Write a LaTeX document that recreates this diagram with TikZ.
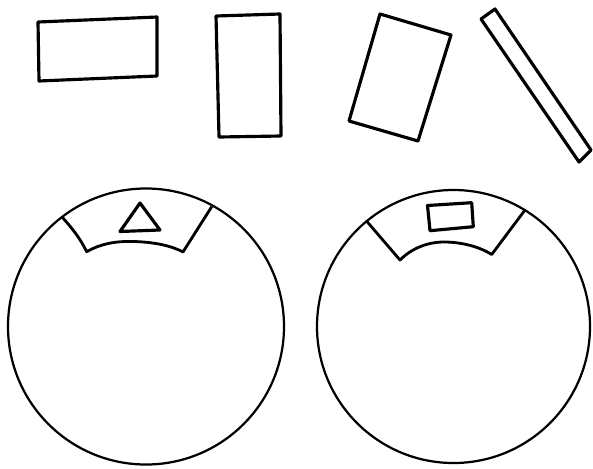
\documentclass[tikz,border=0pt]{standalone}
\usepackage{tikz}
\usetikzlibrary{positioning,calc}

\tikzset{
  plate/.style={draw, line width=2.7pt, line join=round},
  dial/.style={circle, draw, line width=1.9pt, inner sep=0pt},
  window/.style={draw, line width=2.4pt, line join=round}
}

\begin{document}
\begin{tikzpicture}[x=0.03cm, y=-0.03cm]
  \useasboundingbox (0,0) rectangle (593,468);

  % four cut-out plates
  \draw[plate] (38,22) -- (157,17) -- (157,76) -- (39,81) -- cycle;
  \draw[plate] (216,16) -- (280,14) -- (281,136) -- (219,137) -- cycle;
  \draw[plate] (380,14) -- (451,35) -- (418,141) -- (349,121) -- cycle;
  \draw[plate] (481,19) -- (495,9) -- (591,150) -- (579,162) -- cycle;

  % two dials
  \node[dial, minimum size=8.28cm] (dialL) at (146,326.5) {};
  \node[dial, minimum size=8.19cm] (dialR) at (453.5,326.5) {};

  % window of the left dial
  \draw[window] (61.7,216.7) .. controls (72,228) and (80,238) .. (86.7,251.7)
    .. controls (100,244) and (115,241) .. (133,241.5)
    .. controls (155,242) and (172,246) .. (183,252) -- (211.7,206.7);
  \draw[plate] (140,203) -- (120,231.5) -- (160,230) -- cycle;

  % window of the right dial
  \draw[window] (366.5,221) -- (400,260)
    .. controls (412,248) and (428,242) .. (444,242)
    .. controls (462,242) and (480,247) .. (491.7,254.5) -- (525,210);
  \draw[plate] (427.5,205.5) -- (471.7,202.7) -- (473.3,226.7) -- (430,230.7) -- cycle;
\end{tikzpicture}
\end{document}
